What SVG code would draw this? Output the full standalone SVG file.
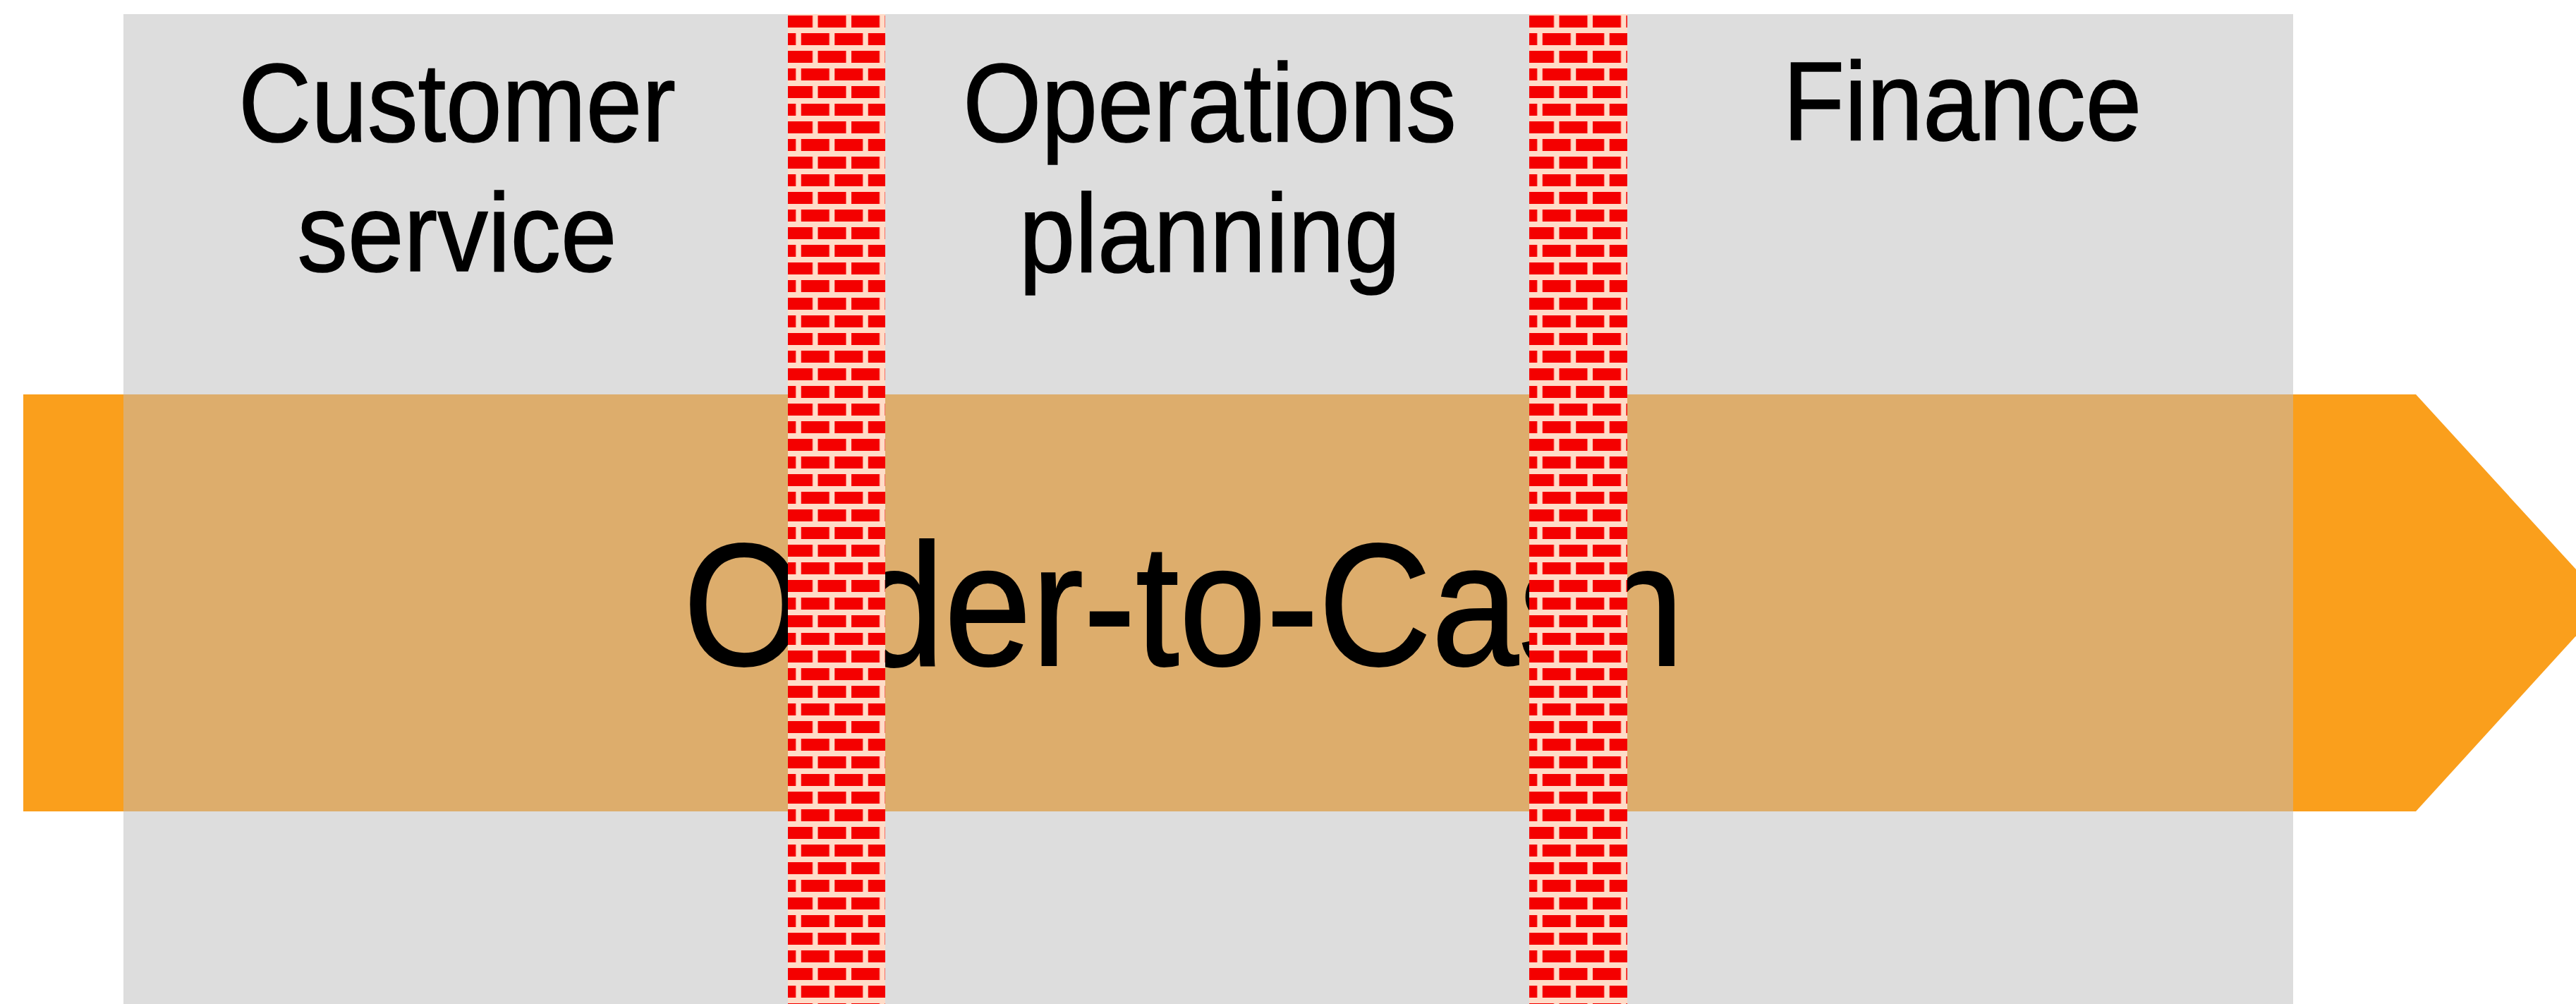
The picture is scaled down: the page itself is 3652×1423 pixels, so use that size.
<svg xmlns="http://www.w3.org/2000/svg" width="3652" height="1423" viewBox="0 0 3652 1423">
<style>
.lbl{font-family:"Liberation Sans",Arial,Helvetica,sans-serif;font-size:143px;fill:#000;stroke:#000;stroke-width:1.5px;text-anchor:middle}
.title{font-family:"Liberation Sans",Arial,Helvetica,sans-serif;font-size:222px;fill:#000;stroke:#000;stroke-width:2px;text-anchor:middle}
.mortar{fill:#ffdcc8}
.brick{fill:#f40000}
</style>
<defs>
<pattern id="bricks" patternUnits="userSpaceOnUse" x="-5" y="22" width="47.5" height="50">
<rect class="brick" x="0" y="0" width="40" height="17"/>
<rect class="brick" x="23.75" y="25" width="40" height="17"/>
<rect class="brick" x="-23.75" y="25" width="40" height="17"/>
</pattern>
</defs>
<rect width="3652" height="1423" fill="#ffffff"/>
<g id="departments">
<rect x="175" y="20" width="3076" height="1403" fill="#dddddd"/>
</g>
<g id="process-arrow">
<polygon points="33,559 3425,559 3695,854 3425,1150 33,1150" fill="#fa9f1c"/>
<rect x="175" y="559" width="3076" height="591" fill="#ddad6c"/>
<text class="title" transform="translate(1678,943) scale(1,1.11)">Order-to-Cash</text>
</g>
<g id="labels">
<g id="customer-service">
<text class="lbl" transform="translate(648,200) scale(1,1.1)">Customer</text>
<text class="lbl" transform="translate(648,384) scale(1,1.1)">service</text>
</g>
<g id="operations-planning">
<text class="lbl" transform="translate(1715,200) scale(1,1.1)">Operations</text>
<text class="lbl" transform="translate(1715,385) scale(1,1.1)">planning</text>
</g>
<g id="finance">
<text class="lbl" transform="translate(2782,198) scale(1,1.1)">Finance</text>
</g>
</g>
<g id="wall1" transform="translate(1117,0)">
<rect class="mortar" x="0" y="20" width="138" height="1403"/>
<rect x="0" y="20" width="138" height="1403" fill="url(#bricks)"/>
</g>
<g id="wall2" transform="translate(2168,0)">
<rect class="mortar" x="0" y="20" width="139" height="1403"/>
<rect x="0" y="20" width="139" height="1403" fill="url(#bricks)"/>
</g>
</svg>
